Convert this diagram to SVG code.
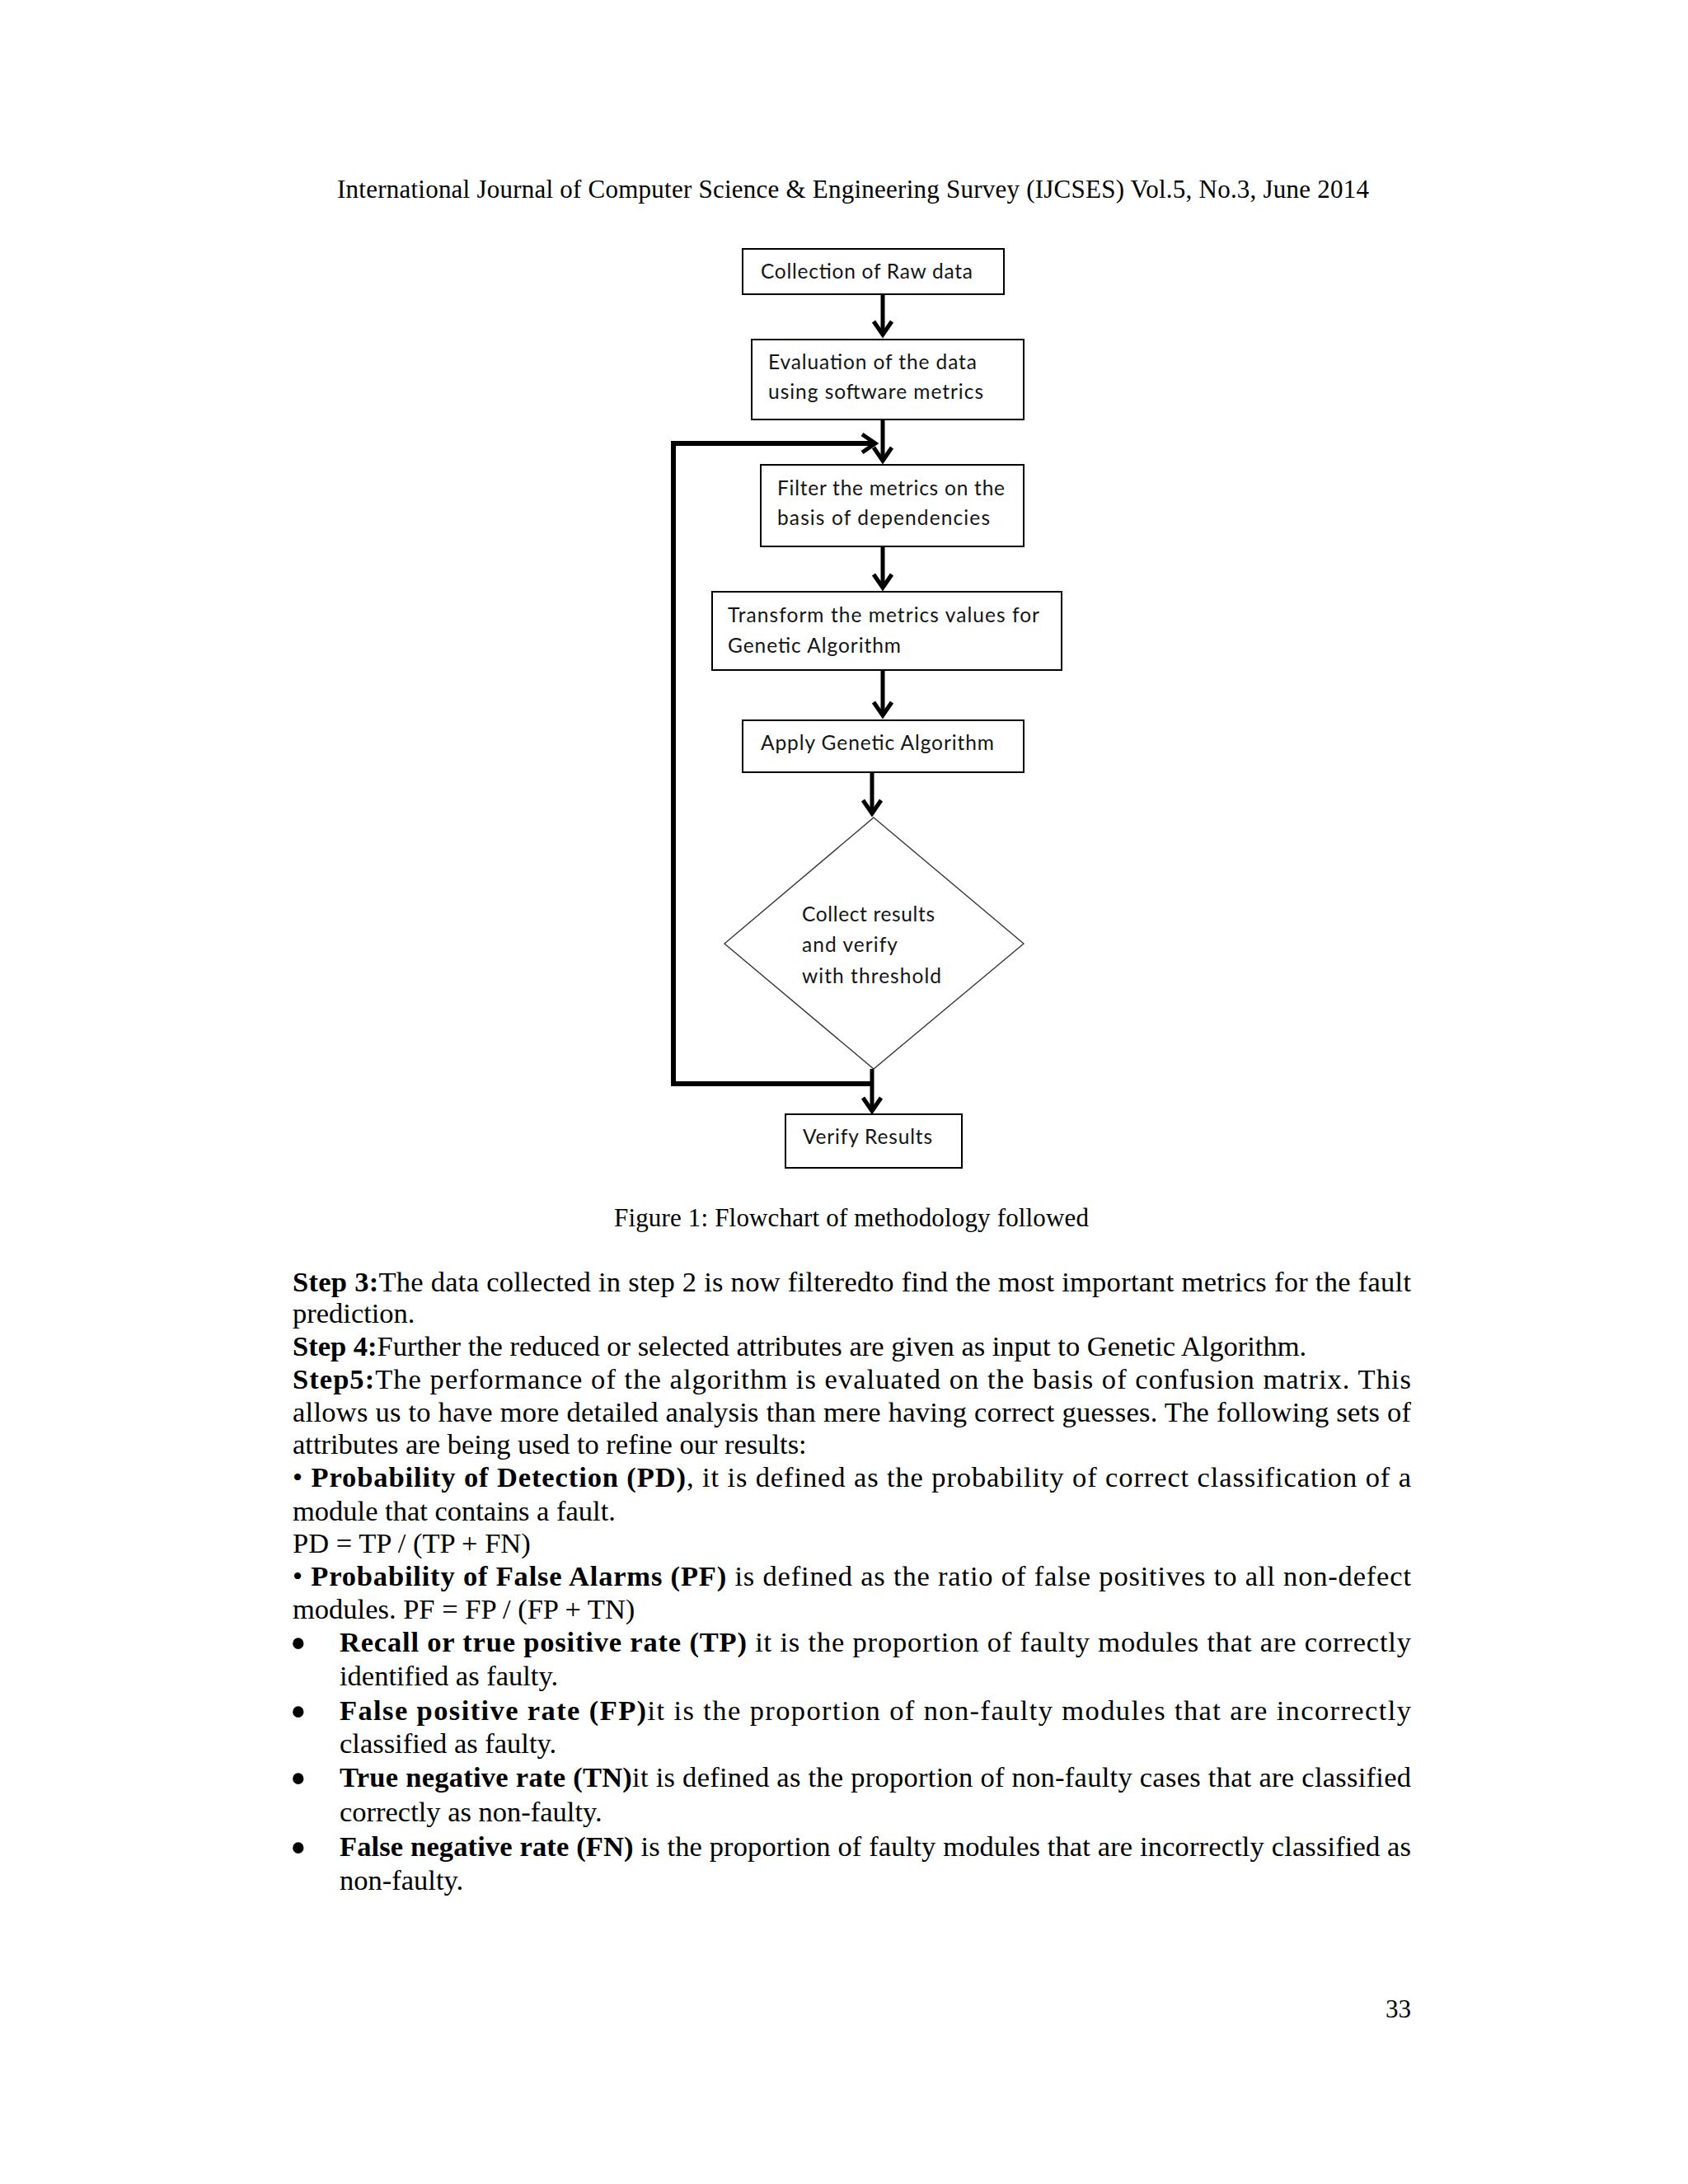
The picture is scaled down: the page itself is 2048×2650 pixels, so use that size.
<svg xmlns="http://www.w3.org/2000/svg" width="2048" height="2650" viewBox="0 0 2048 2650">
<style>
.box{fill:#fff;stroke:#000;stroke-width:2}
.dia{fill:#fff;stroke:#3a3a3a;stroke-width:1.4}
.fc{font-family:Lato,"Open Sans","Liberation Sans",sans-serif;font-size:24.5px;fill:#141414}
.body{font-family:"Liberation Serif","Times New Roman",serif;font-size:34.5px;fill:#000}
.small{font-family:"Liberation Serif","Times New Roman",serif;font-size:31px;fill:#000}
.b{font-weight:bold}
.blt{font-family:"Liberation Serif","Times New Roman",serif;font-size:56px;fill:#000}
.arrow{stroke:#000;stroke-width:5;fill:none;marker-end:url(#v)}
.loop{stroke:#000;stroke-width:6;fill:none;stroke-linejoin:miter;marker-end:url(#v)}
</style>
<defs>
<marker id="v" markerUnits="userSpaceOnUse" viewBox="-22 -15 26 30" markerWidth="26" markerHeight="30" refX="0" refY="0" orient="auto" overflow="visible">
<path d="M-16,-11 L0,0 L-16,11" fill="none" stroke="#000" stroke-width="5" stroke-linejoin="miter"/>
</marker>
</defs>
<rect width="2048" height="2650" fill="#fff"/>

<text class="small" x="409" y="240" textLength="1252">International Journal of Computer Science &amp; Engineering Survey (IJCSES) Vol.5, No.3, June 2014</text>

<g id="connectors">
<line class="arrow" x1="1071" y1="357" x2="1071" y2="406"/>
<line class="arrow" x1="1071" y1="509" x2="1071" y2="559"/>
<line class="arrow" x1="1071" y1="663" x2="1071" y2="713"/>
<line class="arrow" x1="1071" y1="813" x2="1071" y2="868"/>
<line class="arrow" x1="1058" y1="937" x2="1058" y2="987"/>
<line class="arrow" x1="1058" y1="1297" x2="1058" y2="1348"/>
<path class="loop" d="M1058,1315 H817 V538 H1062"/>
</g>

<g id="n1">
<rect class="box" x="901" y="302" width="317" height="55"/>
<text class="fc" x="923" y="338" textLength="257">Collection of Raw data</text>
</g>
<g id="n2">
<rect class="box" x="912" y="412" width="330" height="97"/>
<text class="fc" x="932" y="448" textLength="253">Evaluation of the data</text>
<text class="fc" x="932" y="484" textLength="261">using software metrics</text>
</g>
<g id="n3">
<rect class="box" x="923" y="564" width="319" height="99"/>
<text class="fc" x="943" y="601" textLength="276">Filter the metrics on the</text>
<text class="fc" x="943" y="637" textLength="258">basis of dependencies</text>
</g>
<g id="n4">
<rect class="box" x="864" y="718" width="424" height="95"/>
<text class="fc" x="883" y="755" textLength="378">Transform the metrics values for</text>
<text class="fc" x="883" y="792" textLength="210">Genetic Algorithm</text>
</g>
<g id="n5">
<rect class="box" x="901" y="874" width="341" height="63"/>
<text class="fc" x="923" y="910" textLength="283">Apply Genetic Algorithm</text>
</g>
<g id="n6">
<polygon class="dia" points="1060,992 1242,1145 1060,1297 879,1145"/>
<text class="fc" x="973" y="1118" textLength="161">Collect results</text>
<text class="fc" x="973" y="1155" textLength="116">and verify</text>
<text class="fc" x="973" y="1193" textLength="169">with threshold</text>
</g>
<g id="n7">
<rect class="box" x="953" y="1352" width="214" height="65"/>
<text class="fc" x="974" y="1388" textLength="157">Verify Results</text>
</g>

<text class="small" x="745" y="1488" textLength="576">Figure 1: Flowchart of methodology followed</text>

<g id="bodytext">
<text class="body" x="355" y="1567" textLength="1357"><tspan class="b">Step 3:</tspan>The data collected in step 2 is now filteredto find the most important metrics for the fault</text>
<text class="body" x="355" y="1605">prediction.</text>
<text class="body" x="355" y="1645"><tspan class="b">Step 4:</tspan>Further the reduced or selected attributes are given as input to Genetic Algorithm.</text>
<text class="body" x="355" y="1685" textLength="1357"><tspan class="b">Step5:</tspan>The performance of the algorithm is evaluated on the basis of confusion matrix. This</text>
<text class="body" x="355" y="1725" textLength="1357">allows us to have more detailed analysis than mere having correct guesses. The following sets of</text>
<text class="body" x="355" y="1764">attributes are being used to refine our results:</text>
<text class="body" x="355" y="1804" textLength="1357">• <tspan class="b">Probability of Detection (PD)</tspan>, it is defined as the probability of correct classification of a</text>
<text class="body" x="355" y="1845">module that contains a fault.</text>
<text class="body" x="355" y="1884">PD = TP / (TP + FN)</text>
<text class="body" x="355" y="1924" textLength="1357">• <tspan class="b">Probability of False Alarms (PF)</tspan> is defined as the ratio of false positives to all non-defect</text>
<text class="body" x="355" y="1964">modules. PF = FP / (FP + TN)</text>

<text class="blt" x="352" y="2013">•</text>
<text class="body" x="412" y="2004" textLength="1300"><tspan class="b">Recall or true positive rate (TP)</tspan> it is the proportion of faulty modules that are correctly</text>
<text class="body" x="412" y="2045">identified as faulty.</text>
<text class="blt" x="352" y="2096">•</text>
<text class="body" x="412" y="2087" textLength="1300"><tspan class="b">False positive rate (FP)</tspan>it is the proportion of non-faulty modules that are incorrectly</text>
<text class="body" x="412" y="2127">classified as faulty.</text>
<text class="blt" x="352" y="2177">•</text>
<text class="body" x="412" y="2168" textLength="1300"><tspan class="b">True negative rate (TN)</tspan>it is defined as the proportion of non-faulty cases that are classified</text>
<text class="body" x="412" y="2210">correctly as non-faulty.</text>
<text class="blt" x="352" y="2261">•</text>
<text class="body" x="412" y="2252" textLength="1300"><tspan class="b">False negative rate (FN)</tspan> is the proportion of faulty modules that are incorrectly classified as</text>
<text class="body" x="412" y="2293">non-faulty.</text>
</g>

<text class="small" x="1712" y="2448" text-anchor="end">33</text>
</svg>
